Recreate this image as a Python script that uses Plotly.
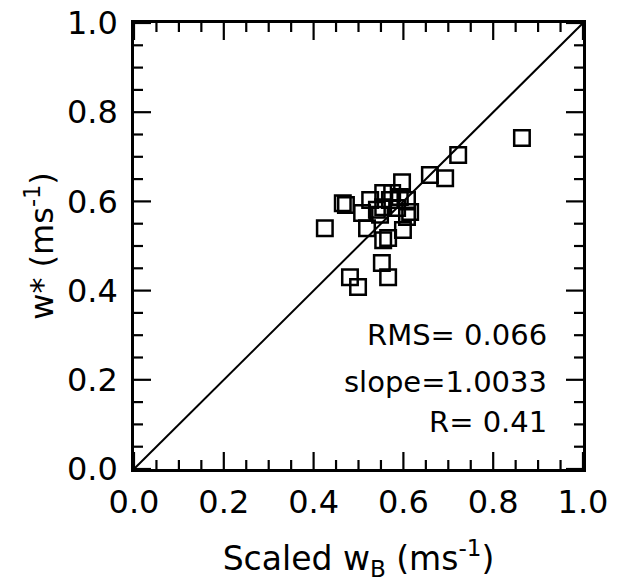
import plotly.graph_objects as go

# scaled w_B vs w*
scaled_wb = [0.864, 0.722, 0.659, 0.693, 0.597, 0.465, 0.472, 0.425, 0.519, 0.526,
             0.508, 0.555, 0.575, 0.592, 0.608, 0.570, 0.555, 0.541, 0.586, 0.615,
             0.608, 0.599, 0.555, 0.566, 0.552, 0.566, 0.481, 0.499, 0.548]
w_star = [0.742, 0.704, 0.659, 0.652, 0.643, 0.596, 0.592, 0.540, 0.540, 0.603,
          0.574, 0.619, 0.619, 0.610, 0.603, 0.603, 0.587, 0.581, 0.585, 0.576,
          0.565, 0.536, 0.513, 0.518, 0.462, 0.430, 0.430, 0.408, 0.570]

one_to_one = [0.0, 1.0]
stats = ["RMS= 0.066", "slope=1.0033", "R= 0.41"]

major_ticks = [0.0, 0.2, 0.4, 0.6, 0.8, 1.0]
minor_ticks = [0.05, 0.1, 0.15, 0.25, 0.3, 0.35, 0.45, 0.5, 0.55,
               0.65, 0.7, 0.75, 0.85, 0.9, 0.95]

FONT = "DejaVu Sans, Liberation Sans, Arial, sans-serif"

fig = go.Figure()

fig.add_trace(go.Scatter(
    x=one_to_one, y=one_to_one, mode="lines",
    line=dict(color="black", width=2), hoverinfo="skip"
))

fig.add_trace(go.Scatter(
    x=scaled_wb, y=w_star, mode="markers",
    marker=dict(symbol="square-open", size=15.5, color="black", line=dict(width=2.5))
))

# stats block, right aligned
for txt, yy in zip(stats, [0.30, 0.195, 0.105]):
    fig.add_annotation(x=0.925, y=yy, xref="paper", yref="paper", text=txt,
                       showarrow=False, xanchor="right", yanchor="middle",
                       font=dict(size=29, color="black", family=FONT))

# inward ticks on all four sides (axis ticks drawn as pixel-sized shapes)
def add_ticks(vals, length):
    for v in vals:
        tick = dict(type="line", xref="x", yref="y", layer="above",
                    line=dict(color="black", width=2.2))
        fig.add_shape(**tick, x0=v, x1=v, ysizemode="pixel", yanchor=0, y0=0, y1=length)
        fig.add_shape(**tick, x0=v, x1=v, ysizemode="pixel", yanchor=1, y0=0, y1=-length)
        fig.add_shape(**tick, y0=v, y1=v, xsizemode="pixel", xanchor=0, x0=0, x1=length)
        fig.add_shape(**tick, y0=v, y1=v, xsizemode="pixel", xanchor=1, x0=0, x1=-length)

add_ticks(major_ticks, 17)
add_ticks(minor_ticks, 9)

axis_style = dict(
    range=[0, 1], tickvals=major_ticks, tickformat=".1f", ticks="",
    showline=True, linecolor="black", linewidth=2.5, mirror=True,
    showgrid=False, zeroline=False, automargin=False,
    tickfont=dict(size=32, color="black", family=FONT),
)

fig.update_xaxes(**axis_style, ticklabelstandoff=3,
                 title=dict(text="Scaled w<sub>B</sub> (ms<sup>-1</sup>)", standoff=27,
                            font=dict(size=33, color="black", family=FONT)))
fig.update_yaxes(**axis_style, ticklabelstandoff=7,
                 title=dict(text="w* (ms<sup>-1</sup>)", standoff=4,
                            font=dict(size=32, color="black", family=FONT)))

fig.update_layout(
    width=621, height=586,
    margin=dict(l=134, r=38, t=23, b=117),
    paper_bgcolor="white", plot_bgcolor="white",
    showlegend=False,
    font=dict(family=FONT, color="black"),
)

# drop the default 8px body margin so the figure sits at the page corner
fig.write_html("out.html", config={"displayModeBar": False},
               post_script="document.body.style.margin='0';")
